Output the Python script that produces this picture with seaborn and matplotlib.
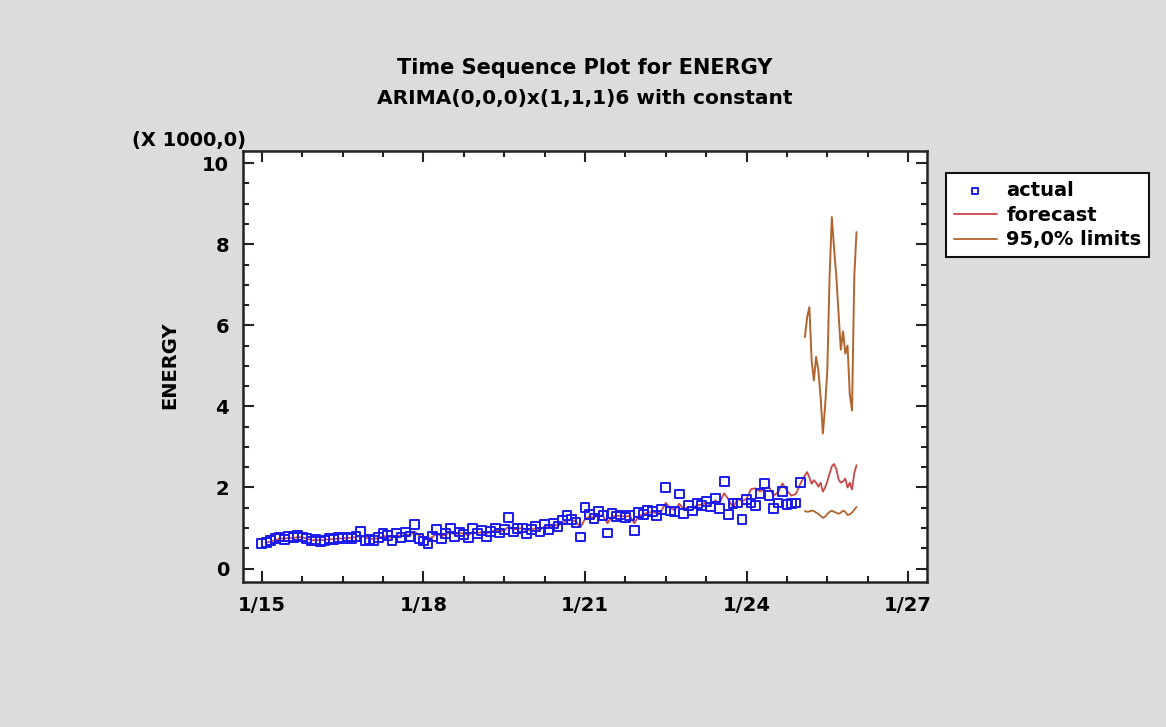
import numpy as np
import pandas as pd
import matplotlib
matplotlib.use("Agg")
import matplotlib.pyplot as plt
import seaborn as sns
from matplotlib.ticker import MultipleLocator

# months since Jan 2015
actual_t = list(range(0, 121))
actual_vals = [
    0.62, 0.65, 0.70, 0.74, 0.78, 0.72, 0.80, 0.76, 0.82, 0.78, 0.74, 0.68,
    0.72, 0.66, 0.70, 0.74, 0.72, 0.76, 0.74, 0.78, 0.75, 0.80, 0.92, 0.70,
    0.72, 0.70, 0.76, 0.86, 0.82, 0.70, 0.88, 0.76, 0.90, 0.80, 1.08, 0.74,
    0.68, 0.62, 0.80, 0.96, 0.74, 0.86, 1.00, 0.78, 0.90, 0.84, 0.76, 0.98,
    0.86, 0.94, 0.80, 0.92, 1.00, 0.88, 0.96, 1.26, 0.90, 0.98, 1.00, 0.86,
    0.96, 1.04, 0.90, 1.10, 0.96, 1.12, 1.04, 1.20, 1.30, 1.22, 1.14, 0.78,
    1.50, 1.34, 1.24, 1.40, 1.30, 0.88, 1.36, 1.28, 1.32, 1.26, 1.30, 0.94,
    1.38, 1.34, 1.44, 1.40, 1.30, 1.46, 2.00, 1.42, 1.40, 1.84, 1.36, 1.56,
    1.42, 1.60, 1.56, 1.66, 1.52, 1.74, 1.48, 2.14, 1.34, 1.60, 1.62, 1.22,
    1.70, 1.62, 1.56, 1.86, 2.10, 1.80, 1.48, 1.62, 1.90, 1.58, 1.60, 1.62,
    2.12,
]

# one-step-ahead forecasts inside the sample (t = 1..120)
fit_t = list(range(1, 121))
fit_vals = [
    0.64, 0.67, 0.70, 0.74, 0.74, 0.76, 0.75, 0.78, 0.77, 0.74, 0.70,
    0.70, 0.70, 0.71, 0.72, 0.73, 0.74, 0.74, 0.76, 0.76, 0.78, 0.82, 0.76,
    0.74, 0.73, 0.75, 0.80, 0.80, 0.76, 0.82, 0.80, 0.84, 0.82, 0.92, 0.82,
    0.76, 0.72, 0.78, 0.86, 0.80, 0.84, 0.90, 0.84, 0.88, 0.86, 0.82, 0.90,
    0.88, 0.90, 0.86, 0.90, 0.95, 0.92, 0.94, 1.04, 0.96, 0.98, 1.00, 0.94,
    0.96, 1.00, 0.96, 1.04, 1.00, 1.08, 1.06, 1.12, 1.18, 1.20, 1.16, 1.02,
    1.22, 1.28, 1.26, 1.32, 1.30, 1.12, 1.28, 1.30, 1.30, 1.28, 1.30, 1.12,
    1.30, 1.34, 1.38, 1.40, 1.36, 1.42, 1.62, 1.50, 1.44, 1.60, 1.46, 1.52,
    1.50, 1.56, 1.58, 1.62, 1.58, 1.68, 1.62, 1.86, 1.70, 1.50, 1.72, 1.66,
    1.72, 1.96, 1.98, 1.90, 1.96, 2.02, 1.80, 1.88, 2.10, 1.92, 1.80, 1.84,
    2.10,
]

# out-of-sample horizon, half-month steps
fc_t = [121 + 0.5 * k for k in range(24)]
fc_vals = [2.30, 2.38, 2.25, 2.09, 2.18, 2.12, 2.02, 2.12, 1.90, 2.00, 2.15, 2.34,
           2.52, 2.58, 2.46, 2.20, 2.12, 2.15, 2.22, 2.00, 2.12, 1.95, 2.35, 2.55]
lower_vals = [1.42, 1.40, 1.41, 1.43, 1.42, 1.38, 1.35, 1.30, 1.25, 1.28, 1.35, 1.40,
              1.43, 1.40, 1.38, 1.35, 1.38, 1.43, 1.40, 1.32, 1.34, 1.38, 1.45, 1.52]
upper_vals = [5.71, 6.20, 6.45, 5.14, 4.64, 5.22, 4.89, 4.23, 3.33, 4.00, 4.90, 7.20,
              8.67, 7.90, 7.20, 6.30, 5.40, 5.85, 5.30, 5.50, 4.30, 3.90, 7.20, 8.30]

tick_pos = [0, 36, 72, 108, 144]
tick_labels = ["1/15", "1/18", "1/21", "1/24", "1/27"]

df_act = pd.DataFrame({"t": actual_t, "ENERGY": actual_vals})
df_fc = pd.DataFrame({"t": fit_t + fc_t, "ENERGY": fit_vals + fc_vals})
df_lo = pd.DataFrame({"t": fc_t, "ENERGY": lower_vals})
df_up = pd.DataFrame({"t": fc_t, "ENERGY": upper_vals})

sns.set_theme(style="ticks")
plt.rcParams["font.family"] = ["DejaVu Sans"]
plt.rcParams["font.weight"] = "bold"
plt.rcParams["text.color"] = "black"
plt.rcParams["xtick.color"] = "black"
plt.rcParams["ytick.color"] = "black"

bg = "#dcdcdc"
red = "#c8464a"
brown = "#b0652e"
blue = "#1a1aee"

fig = plt.figure(figsize=(11.66, 7.27), dpi=100, facecolor=bg)
ax = fig.add_axes([0.2084, 0.1995, 0.5866, 0.5928])
ax.set_facecolor("white")

sns.lineplot(data=df_fc, x="t", y="ENERGY", color=red, linewidth=1.3, ax=ax,
             label="forecast", zorder=2)
sns.lineplot(data=df_lo, x="t", y="ENERGY", color=brown, linewidth=1.3, ax=ax,
             label="95,0% limits", zorder=2)
sns.lineplot(data=df_up, x="t", y="ENERGY", color=brown, linewidth=1.4, ax=ax,
             zorder=2)
sns.scatterplot(data=df_act, x="t", y="ENERGY", marker="s", s=40,
                facecolor="none", edgecolor=blue, linewidth=1.4, ax=ax,
                label="actual", zorder=3)

ax.set_xlim(-4.2, 148.2)
ax.set_ylim(-0.33, 10.3)
ax.set_xticks(tick_pos)
ax.set_xticklabels(tick_labels)
ax.xaxis.set_minor_locator(MultipleLocator(9))
ax.set_yticks([0, 2, 4, 6, 8, 10])
ax.yaxis.set_minor_locator(MultipleLocator(0.5))
ax.tick_params(which="both", direction="in", top=True, right=True,
               color="#222222", width=1.5, labelsize=14, pad=10)
ax.tick_params(which="major", length=8)
ax.tick_params(which="minor", length=4.5)
for lab in ax.get_xticklabels() + ax.get_yticklabels():
    lab.set_fontweight("bold")
for sp in ax.spines.values():
    sp.set_linewidth(1.8)
    sp.set_color("#222222")

ax.set_xlabel("")
ax.set_ylabel("")
fig.text(0.146, 0.497, "ENERGY", rotation=90, ha="center", va="center",
         fontsize=14, fontweight="bold")
fig.text(0.211, 0.807, "(X 1000,0)", ha="right", va="center",
         fontsize=14, fontweight="bold")
fig.text(0.5017, 0.906, "Time Sequence Plot for ENERGY", ha="center",
         va="center", fontsize=15, fontweight="bold")
fig.text(0.5017, 0.864, "ARIMA(0,0,0)x(1,1,1)6 with constant", ha="center",
         va="center", fontsize=14.5, fontweight="bold")

handles, labels = ax.get_legend_handles_labels()
order = [labels.index(n) for n in ["actual", "forecast", "95,0% limits"]]
leg = ax.legend([handles[i] for i in order], [labels[i] for i in order],
                loc="upper left", bbox_to_anchor=(0.8113, 0.762),
                bbox_transform=fig.transFigure, fancybox=False, framealpha=1,
                edgecolor="#111111", prop={"weight": "bold", "size": 14},
                handlelength=2.2, borderpad=0.4, labelspacing=0.3,
                handletextpad=0.5, borderaxespad=0, markerscale=0.7)
leg.get_frame().set_linewidth(1.5)

fig.savefig("out.png", dpi=100, facecolor=bg)
